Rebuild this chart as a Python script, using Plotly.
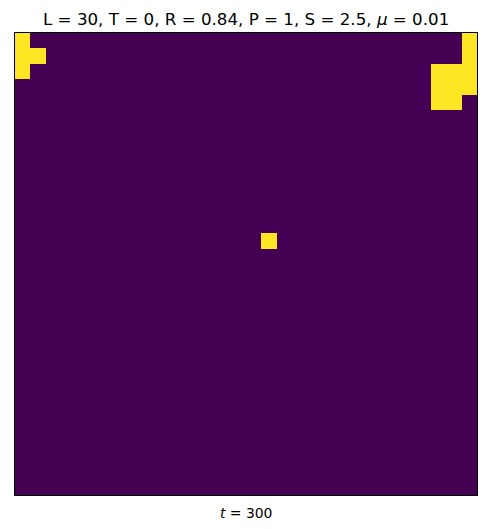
import plotly.graph_objects as go
import numpy as np

L = 30
# yellow (state 1) cells as (row, col), row 0 at top
cells_row = [0, 1, 2, 1, 0, 1, 2, 3, 2, 3, 4, 2, 3, 4, 13]
cells_col = [0, 0, 0, 1, 29, 29, 29, 29, 27, 27, 27, 28, 28, 28, 16]
title_text = "L = 30, T = 0, R = 0.84, P = 1, S = 2.5, <i>μ</i> = 0.01"
xlabel_text = "<i>t</i> = 300"

z = np.zeros((L, L))
for r, c in zip(cells_row, cells_col):
    z[r, c] = 1

fig = go.Figure(go.Heatmap(
    z=z,
    colorscale=[[0, "#440154"], [1, "#fde725"]],
    zmin=0, zmax=1,
    showscale=False,
    hoverinfo="skip",
))

fig.update_xaxes(range=[-0.5, L - 0.5], showticklabels=False, ticks="", showgrid=False,
                 zeroline=False, showline=True, linecolor="black", linewidth=1, mirror=True,
                 automargin=False)
fig.update_yaxes(range=[L - 0.5, -0.5], showticklabels=False, ticks="", showgrid=False,
                 zeroline=False, showline=True, linecolor="black", linewidth=1, mirror=True,
                 automargin=False)

fig.add_annotation(text=title_text, xref="paper", yref="paper", x=0.5, y=1,
                   yshift=2, xanchor="center", yanchor="bottom", showarrow=False,
                   font=dict(size=16.7, color="black"))
fig.add_annotation(text=xlabel_text, xref="paper", yref="paper", x=0.5, y=0,
                   yshift=-8, xanchor="center", yanchor="top", showarrow=False,
                   font=dict(size=13.9, color="black"))

# page body has an 8px default margin, so the figure is sized to compensate
fig.update_layout(
    width=478, height=521,
    margin=dict(l=7, r=9, t=25, b=34, autoexpand=False),
    paper_bgcolor="white", plot_bgcolor="white",
    font=dict(family="DejaVu Sans", color="black"),
)

fig.write_html("out.html")
